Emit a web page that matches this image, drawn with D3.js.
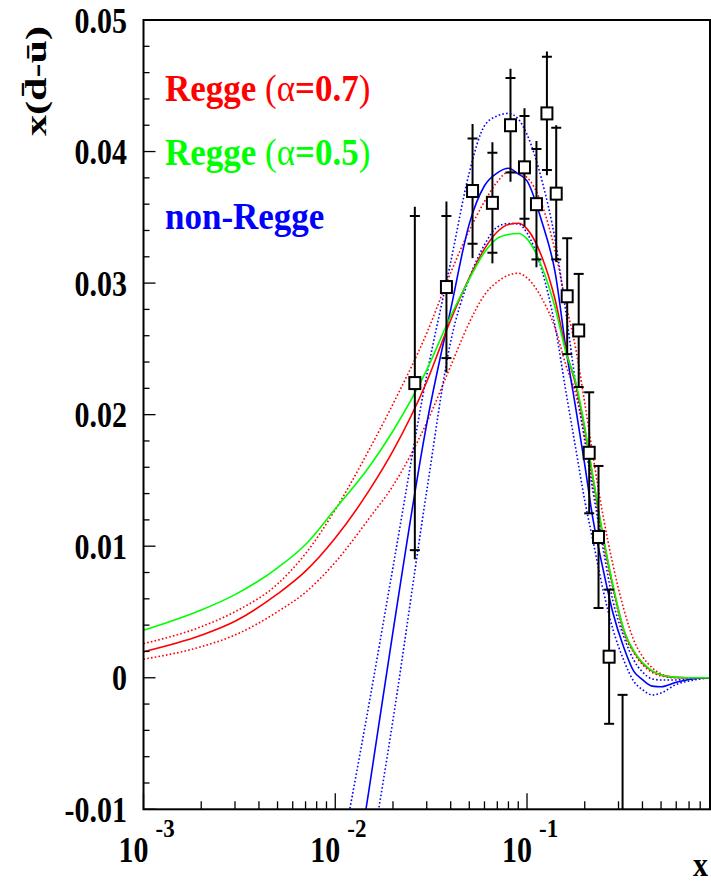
<!DOCTYPE html>
<html>
<head>
<meta charset="utf-8">
<script src="https://cdn.jsdelivr.net/npm/d3@7"></script>
<style>
  body { margin: 0; background: #fff; }
  svg { display: block; }
  text { font-family: "Liberation Serif", "Times New Roman", serif; font-weight: bold; }
</style>
</head>
<body>
<svg id="chart" width="711" height="882"></svg>
<script>
// ---- model curves: x(dbar - ubar) versus x ----
const xRegge = [0.001, 0.002, 0.003, 0.005, 0.007, 0.01, 0.015, 0.02, 0.03, 0.04, 0.05, 0.06, 0.07, 0.08, 0.09, 0.10,
                0.12, 0.14, 0.16, 0.18, 0.20, 0.22, 0.25, 0.28, 0.32, 0.36, 0.40, 0.45, 0.50, 0.60, 0.70, 0.80, 0.90];
const regge07 = [0.00198, 0.00323, 0.00429, 0.00637, 0.0081, 0.01062, 0.01422, 0.01724, 0.0225, 0.0272, 0.0304, 0.0326, 0.0339, 0.03446, 0.03455, 0.03412,
                 0.03193, 0.02877, 0.02484, 0.0222, 0.0189, 0.0153, 0.0106, 0.0070, 0.0036, 0.0020, 0.0011, 0.0005, 0.0002, 0.00003, 0, 0, 0];
const regge07Hi = [0.00259, 0.00388, 0.00502, 0.00713, 0.00944, 0.01277, 0.01732, 0.02081, 0.0262, 0.0308, 0.0340, 0.0362, 0.0377, 0.03845, 0.03834, 0.03803,
                   0.0359, 0.03248, 0.02835, 0.02492, 0.02089, 0.01701, 0.01221, 0.00865, 0.00519, 0.00287, 0.00162, 0.00075, 0.00029, 0.00002, 0, 0, 0];
const regge07Lo = [0.00141, 0.00236, 0.00325, 0.00502, 0.0065, 0.00878, 0.0121, 0.0146, 0.0194, 0.0237, 0.0270, 0.0291, 0.0301, 0.0306, 0.03075, 0.0304,
                   0.0288, 0.0266, 0.0237, 0.0215, 0.0183, 0.0148, 0.0102, 0.0068, 0.0034, 0.0019, 0.0010, 0.0004, 0.00014, 0, 0, 0, 0];
const regge05 = [0.00361, 0.00515, 0.00632, 0.00836, 0.01013, 0.01284, 0.01602, 0.01876, 0.0234, 0.0275, 0.0303, 0.03234, 0.0334, 0.0337, 0.03377, 0.03336,
                 0.03117, 0.02816, 0.02467, 0.02241, 0.01904, 0.01539, 0.01069, 0.00709, 0.00363, 0.00204, 0.00116, 0.00052, 0.00021, 0.00004, 0, 0, 0];

const xNonRegge = [0.01, 0.015, 0.02, 0.03, 0.04, 0.05, 0.06, 0.07, 0.08, 0.09, 0.10, 0.12, 0.14, 0.16, 0.18, 0.20,
                   0.22, 0.25, 0.28, 0.32, 0.36, 0.40, 0.45, 0.50, 0.60, 0.70, 0.80, 0.90];
const nonRegge = [-0.025, -0.0085, 0.0035, 0.0193, 0.0280, 0.0345, 0.0374, 0.03838, 0.03873, 0.0383, 0.03777, 0.03458, 0.03085, 0.0249, 0.02039, 0.0162,
                  0.01219, 0.00816, 0.00498, 0.00228, 0.0005, -0.00014, -0.00064, -0.00068, -0.00034, -0.00013, -0.00002, 0];
const nonReggeHi = [-0.0159, -0.0020, 0.0084, 0.0230, 0.0316, 0.0384, 0.04196, 0.04271, 0.0429, 0.04248, 0.0413, 0.03772, 0.03332, 0.02761, 0.0222, 0.0180,
                    0.0143, 0.0097, 0.0059, 0.0031, 0.00135, 0.00044, -0.00009, -0.00017, -0.00017, -0.0001, -0.00005, 0];
const nonReggeLo = [-0.0298, -0.01446, -0.00321, 0.01421, 0.02556, 0.03036, 0.03291, 0.03427, 0.03453, 0.0345, 0.03381, 0.03089, 0.02674, 0.02165, 0.01732, 0.01347,
                    0.01053, 0.0066, 0.00373, 0.00131, -0.00026, -0.0009, -0.00131, -0.00116, -0.00051, -0.00024, -0.00009, 0];

// ---- measurements ----
const dataX = [0.026, 0.038, 0.052, 0.066, 0.082, 0.097, 0.112, 0.127, 0.142, 0.162, 0.186, 0.211, 0.236, 0.268, 0.315];
const dataY = [0.0224, 0.0297, 0.0370, 0.0361, 0.0420, 0.0388, 0.0360, 0.0429, 0.0368, 0.0290, 0.0264, 0.0171, 0.0107, 0.0016, -0.0112];
const statErr = [0.0127, 0.0054, 0.0040, 0.0038, 0.0036, 0.0039, 0.0042, 0.0043, 0.0050, 0.0044, 0.0043, 0.0046, 0.0054, 0.0051, 0.0099];
const totErr = [0.0134, 0.0065, 0.0051, 0.0046, 0.0043, 0.0045, 0.0048, 0.0047, 0.0052, 0.0044, 0.0043, 0.0046, 0.0054, 0.0051, 0.0099];

// ---- axis labels ----
const yTickValues = [-0.01, 0, 0.01, 0.02, 0.03, 0.04, 0.05];
const yTickLabels = ["-0.01", "0", "0.01", "0.02", "0.03", "0.04", "0.05"];
const xDecades = [0.001, 0.01, 0.1];
const xDecadeExponents = ["-3", "-2", "-1"];
const legendLabels = [
  { pre: "Regge ", sym: "(\u03b1", post: "=0.7", close: ")", color: "#ff0000" },
  { pre: "Regge ", sym: "(\u03b1", post: "=0.5", close: ")", color: "#00ff00" },
  { pre: "non-Regge", sym: "", post: "", close: "", color: "#0000ff" }
];

// ---- layout ----
const frame = { left: 143.5, right: 710, top: 20, bottom: 809.3 };
const svg = d3.select("#chart");
svg.append("rect").attr("width", 711).attr("height", 882).attr("fill", "#fff");

const x = d3.scaleLog().domain([0.001, 0.9]).range([frame.left, frame.right]);
const y = d3.scaleLinear().domain([-0.01, 0.05]).range([frame.bottom, frame.top]);

svg.append("defs").append("clipPath").attr("id", "plotArea")
  .append("rect")
  .attr("x", frame.left).attr("y", frame.top)
  .attr("width", frame.right - frame.left).attr("height", frame.bottom - frame.top);

const plot = svg.append("g").attr("clip-path", "url(#plotArea)");

const line = d3.line().x(d => x(d[0])).y(d => y(d[1])).curve(d3.curveMonotoneX);

const curves = [
  { xs: xRegge, ys: regge07Hi, color: "#ff0000", dotted: true },
  { xs: xRegge, ys: regge07Lo, color: "#ff0000", dotted: true },
  { xs: xNonRegge, ys: nonReggeHi, color: "#0000ff", dotted: true },
  { xs: xNonRegge, ys: nonReggeLo, color: "#0000ff", dotted: true },
  { xs: xNonRegge, ys: nonRegge, color: "#0000ff", dotted: false },
  { xs: xRegge, ys: regge07, color: "#ff0000", dotted: false },
  { xs: xRegge, ys: regge05, color: "#00ff00", dotted: false }
];

curves.forEach(c => {
  plot.append("path")
    .attr("d", line(c.xs.map((v, i) => [v, c.ys[i]])))
    .attr("fill", "none")
    .attr("stroke", c.color)
    .attr("stroke-width", 1.6)
    .attr("stroke-dasharray", c.dotted ? "1.6 2.2" : null);
});

// error bars: full line = total error, caps = statistical error
const points = dataX.map((v, i) => ({ x: v, y: dataY[i], s: statErr[i], t: totErr[i] }));
const pts = plot.append("g");
points.forEach(p => {
  const cx = x(p.x);
  pts.append("line")
    .attr("x1", cx).attr("x2", cx)
    .attr("y1", y(p.y - p.t)).attr("y2", y(p.y + p.t))
    .attr("stroke", "#000").attr("stroke-width", 2);
  [p.y - p.s, p.y + p.s].forEach(e => {
    pts.append("line")
      .attr("x1", cx - 5).attr("x2", cx + 5)
      .attr("y1", y(e)).attr("y2", y(e))
      .attr("stroke", "#000").attr("stroke-width", 2);
  });
  pts.append("rect")
    .attr("x", cx - 5.5).attr("y", y(p.y) - 6)
    .attr("width", 11).attr("height", 12)
    .attr("fill", "#fff").attr("stroke", "#000").attr("stroke-width", 2);
});

// ---- ticks ----
const ticks = svg.append("g").attr("stroke", "#000").attr("stroke-width", 1.3);
d3.range(-0.01, 0.0501, 0.002).forEach(v => {
  const major = Math.abs(Math.round(v * 100) - v * 100) < 1e-6;
  ticks.append("line")
    .attr("x1", frame.left).attr("x2", frame.left + (major ? 12 : 6))
    .attr("y1", y(v)).attr("y2", y(v));
});
[0.001, 0.01, 0.1].forEach(d => {
  for (let k = 1; k <= 9; k++) {
    const v = d * k;
    if (v > 0.9 + 1e-9) continue;
    ticks.append("line")
      .attr("x1", x(v)).attr("x2", x(v))
      .attr("y1", frame.bottom).attr("y2", frame.bottom - (k === 1 ? 16 : 8));
  }
});

// ---- frame ----
svg.append("rect")
  .attr("x", frame.left).attr("y", frame.top)
  .attr("width", frame.right - frame.left).attr("height", frame.bottom - frame.top)
  .attr("fill", "none").attr("stroke", "#000").attr("stroke-width", 2);

// ---- tick labels ----
const yLab = svg.append("g");
yTickValues.forEach((v, i) => {
  yLab.append("text")
    .attr("transform", `translate(127,${y(v) + 12.5}) scale(1,1.18)`)
    .attr("text-anchor", "end")
    .attr("font-size", 30)
    .text(yTickLabels[i]);
});

const xLab = svg.append("g");
xDecades.forEach((d, i) => {
  const px = x(d);
  xLab.append("text")
    .attr("transform", `translate(${px + 5},861.5) scale(1,1.18)`)
    .attr("text-anchor", "end")
    .attr("font-size", 30)
    .text("10");
  xLab.append("text")
    .attr("transform", `translate(${px + 12},837) scale(1,1.1)`)
    .attr("font-size", 23)
    .text(xDecadeExponents[i]);
});

// axis titles
svg.append("text")
  .attr("transform", "translate(708,876) scale(1,1.15)")
  .attr("text-anchor", "end")
  .attr("font-size", 30)
  .text("x");

svg.append("text")
  .attr("transform", "translate(46,81) rotate(-90)")
  .attr("text-anchor", "middle")
  .attr("font-size", 30)
  .attr("textLength", 110)
  .attr("lengthAdjust", "spacingAndGlyphs")
  .text("x(d\u0304-u\u0304)");

// ---- legend ----
legendLabels.forEach((l, i) => {
  const t = svg.append("text")
    .attr("transform", `translate(165,${100.5 + i * 64.3}) scale(1,1.08)`)
    .attr("font-size", 35)
    .attr("fill", l.color);
  t.append("tspan").text(l.pre);
  if (l.sym) {
    t.append("tspan").attr("font-weight", "normal").text(l.sym);
    t.append("tspan").text(l.post);
    t.append("tspan").attr("font-weight", "normal").text(l.close);
  }
});
</script>
</body>
</html>
